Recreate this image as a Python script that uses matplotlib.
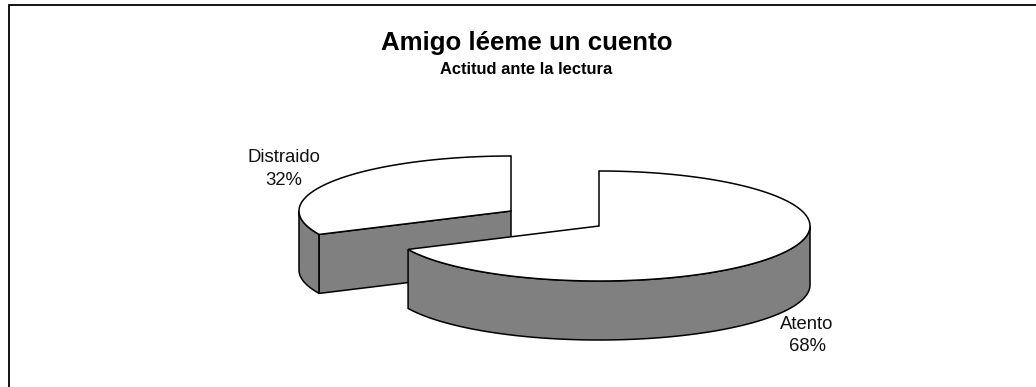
import numpy as np
import matplotlib
matplotlib.use("Agg")
import matplotlib.pyplot as plt
from matplotlib.patches import Polygon

categories = ["Atento", "Distraido"]
values = [68, 32]
title = "Amigo léeme un cuento"
subtitle = "Actitud ante la lectura"

W, H = 1036, 387
plt.rcParams['font.family'] = ['Liberation Sans', 'DejaVu Sans']
fig = plt.figure(figsize=(W / 100, H / 100), dpi=100)
ax = fig.add_axes([0, 0, 1, 1])
ax.set_xlim(0, W)
ax.set_ylim(H, 0)
ax.axis('off')

GREY = '#808080'
LW = 1.1
DEPTH = 59
# per-slice layout: ellipse centre and radii
layout = [dict(c=(599, 226), rx=211, ry=55), dict(c=(511, 211), rx=212, ry=55)]

fractions = np.array(values) / sum(values) * 2 * np.pi
starts = np.concatenate([[0], np.cumsum(fractions)[:-1]])


def arc(c, rx, ry, a0, a1, n=200):
    t = np.linspace(a0, a1, n)
    return np.column_stack([c[0] + rx * np.sin(t), c[1] - ry * np.cos(t)])


def shift(p):
    return p + np.array([0, DEPTH])


for i in [1, 0]:
    g = layout[i]
    c, rx, ry = g['c'], g['rx'], g['ry']
    a0, a1 = starts[i], starts[i] + fractions[i]
    # outer wall: the part of the rim facing the viewer
    lo, hi = max(a0, np.pi / 2), min(a1, 3 * np.pi / 2)
    if hi > lo:
        rim = arc(c, rx, ry, lo, hi)
        ax.add_patch(Polygon(np.vstack([rim, shift(rim)[::-1]]), closed=True,
                             fc=GREY, ec='black', lw=LW, zorder=2 + 3 * (1 - i)))
    # cut wall (only visible for the slice whose start edge faces the viewer)
    centre = np.array(c, float)
    if i == 1:
        p = arc(c, rx, ry, a0, a0, 1)[0]
        quad = np.array([centre, p, shift(p), shift(centre)])
        ax.add_patch(Polygon(quad, closed=True, fc=GREY, ec='black', lw=LW,
                             zorder=2 + 3 * (1 - i)))
    # top face
    top = np.vstack([[centre], arc(c, rx, ry, a0, a1, 400)])
    ax.add_patch(Polygon(top, closed=True, fc='white', ec='black', lw=LW,
                         joinstyle='miter', zorder=3 + 3 * (1 - i)))

# chart frame, left and top edges
ax.plot([8.5, 8.5, W], [H, 4.5, 4.5], color='black', lw=1.3, zorder=1,
        solid_joinstyle='miter')

ax.text(527, 43, title, ha='center', va='center', fontsize=18.6, fontweight='bold')
ax.text(526.5, 69, subtitle, ha='center', va='center', fontsize=11.9, fontweight='bold')

label_pos = [(807, 335.5), (284, 169)]
for name, v, (x, y) in zip(categories, values, label_pos):
    ax.text(x, y, f"{name}\n{v}%", ha='center', va='center', fontsize=13.3,
            linespacing=1.42, color='#111111')

fig.savefig("out.png", dpi=100, facecolor='white')
